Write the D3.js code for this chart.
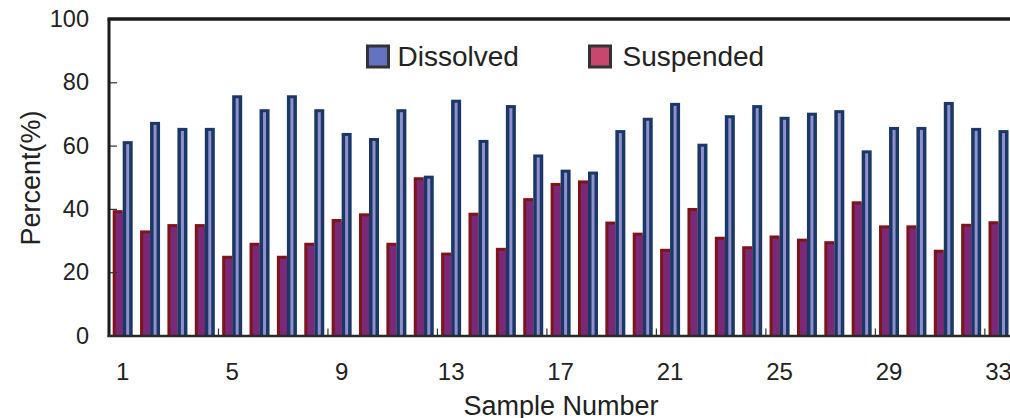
<!DOCTYPE html>
<html>
<head>
<meta charset="utf-8">
<script src="https://cdn.jsdelivr.net/npm/d3@7"></script>
<style>
  body { margin: 0; background: #fff; }
  text { font-family: "Liberation Sans", Arial, sans-serif; fill: #222; }
</style>
</head>
<body>
<div id="chart"></div>
<script>
var svgWidth = 1010;
var svgHeight = 418;

// data
var samples = d3.range(1, 34);
var dissolved = [61.4, 67.5, 65.6, 65.6, 75.9, 71.5, 75.9, 71.5, 64, 62.4,
  71.5, 50.5, 74.5, 61.8, 72.8, 57.2, 52.4, 51.8, 64.9, 68.8,
  73.5, 60.6, 69.6, 72.8, 69.1, 70.4, 71.2, 58.5, 65.9, 65.9,
  73.8, 65.6, 64.9];
var suspended = [39.6, 33.2, 35.2, 35.2, 25.2, 29.3, 25.2, 29.3, 36.8, 38.6,
  29.3, 50, 26.2, 38.8, 27.7, 43.4, 48.2, 49, 36, 32.5,
  27.4, 40.3, 31.2, 28.2, 31.6, 30.6, 29.8, 42.4, 34.8, 34.8,
  27.1, 35.3, 36.1];
var yTicks = [0, 20, 40, 60, 80, 100];
var xTickLabels = [1, 5, 9, 13, 17, 21, 25, 29, 33];

var plot = { left: 109, top: 19, bottom: 335.5 };
var step = 27.37;

var svg = d3.select("#chart")
  .append("svg")
  .attr("width", svgWidth)
  .attr("height", svgHeight);

var x = d3.scaleBand()
  .domain(samples)
  .range([plot.left, plot.left + step * samples.length])
  .padding(0);

var y = d3.scaleLinear()
  .domain([0, 100])
  .range([plot.bottom, plot.top]);

var barW = 10;
var edge = 3;

// suspended bars (left of centre)
var sus = svg.append("g").selectAll("g")
  .data(samples)
  .enter()
  .append("g");
sus.append("rect")
  .attr("x", d => x(d) + x.bandwidth() / 2 - barW)
  .attr("y", (d, i) => y(suspended[i]))
  .attr("width", barW)
  .attr("height", (d, i) => y(0) - y(suspended[i]))
  .attr("fill", "#7e1418");
sus.append("rect")
  .attr("x", d => x(d) + x.bandwidth() / 2 - barW + edge)
  .attr("y", (d, i) => y(suspended[i]) + edge)
  .attr("width", barW - edge)
  .attr("height", (d, i) => Math.max(0, y(0) - y(suspended[i]) - edge))
  .attr("fill", "#7a2878");

// dissolved bars (right of centre)
var dis = svg.append("g").selectAll("g")
  .data(samples)
  .enter()
  .append("g");
dis.append("rect")
  .attr("x", d => x(d) + x.bandwidth() / 2)
  .attr("y", (d, i) => y(dissolved[i]))
  .attr("width", barW)
  .attr("height", (d, i) => y(0) - y(dissolved[i]))
  .attr("fill", "#1a3766");
dis.append("rect")
  .attr("x", d => x(d) + x.bandwidth() / 2 + 3.5)
  .attr("y", (d, i) => y(dissolved[i]) + edge)
  .attr("width", barW - 7)
  .attr("height", (d, i) => y(0) - y(dissolved[i]) - edge)
  .attr("fill", "#9090cc");

// y axis, ticks pointing inward
var leftAxis = d3.axisLeft(y)
  .tickValues(yTicks)
  .tickSize(-8)
  .tickPadding(20);
var yg = svg.append("g")
  .attr("transform", `translate(${plot.left}, 0)`)
  .call(leftAxis);
yg.select(".domain").remove();
yg.selectAll(".tick line")
  .attr("stroke", "#333")
  .attr("stroke-width", 1.2)
  .filter(d => d === 0 || d === 100).remove();
yg.selectAll(".tick text")
  .attr("font-size", 23.5)
  .attr("fill", "#222")
  .attr("font-family", "Liberation Sans, Arial, sans-serif");

// x axis labels at category centres
var bottomAxis = d3.axisBottom(x)
  .tickValues(xTickLabels)
  .tickSize(0)
  .tickPadding(27);
var xg = svg.append("g")
  .attr("transform", `translate(0, ${plot.bottom})`)
  .call(bottomAxis);
xg.select(".domain").remove();
xg.selectAll(".tick text")
  .attr("font-size", 24)
  .attr("fill", "#222")
  .attr("font-family", "Liberation Sans, Arial, sans-serif");

// small ticks at group boundaries
svg.append("g").selectAll("line")
  .data(xTickLabels.slice(1))
  .enter()
  .append("line")
  .attr("x1", d => x(d))
  .attr("x2", d => x(d))
  .attr("y1", plot.bottom)
  .attr("y2", plot.bottom - 7)
  .attr("stroke", "#333")
  .attr("stroke-width", 1.2);

// frame
svg.append("line")
  .attr("x1", plot.left - 1.5).attr("x2", svgWidth)
  .attr("y1", plot.top).attr("y2", plot.top)
  .attr("stroke", "#1a1a1a").attr("stroke-width", 3.5);
svg.append("line")
  .attr("x1", plot.left).attr("x2", plot.left)
  .attr("y1", plot.top).attr("y2", plot.bottom + 1.5)
  .attr("stroke", "#1a1a1a").attr("stroke-width", 3);
svg.append("line")
  .attr("x1", plot.left - 1.5).attr("x2", svgWidth)
  .attr("y1", plot.bottom + 0.5).attr("y2", plot.bottom + 0.5)
  .attr("stroke", "#2a2a2a").attr("stroke-width", 2.5);

// legend
var legend = [
  { name: "Dissolved", color: "#6373c0", x: 367.5, tx: 30 },
  { name: "Suspended", color: "#c8476f", x: 589.5, tx: 33 }
];
var lg = svg.append("g").selectAll("g")
  .data(legend)
  .enter()
  .append("g")
  .attr("transform", d => `translate(${d.x}, 46)`);
lg.append("rect")
  .attr("width", 21)
  .attr("height", 21)
  .attr("fill", d => d.color)
  .attr("stroke", "#333")
  .attr("stroke-width", 3);
lg.append("text")
  .attr("x", d => d.tx)
  .attr("y", 19.5)
  .attr("font-size", 28)
  .text(d => d.name);

// axis titles
svg.append("text")
  .attr("transform", `translate(40, 178) rotate(-90)`)
  .attr("text-anchor", "middle")
  .attr("font-size", 27)
  .text("Percent(%)");

svg.append("text")
  .attr("x", 561)
  .attr("y", 415)
  .attr("text-anchor", "middle")
  .attr("font-size", 27)
  .text("Sample Number");
</script>
</body>
</html>
